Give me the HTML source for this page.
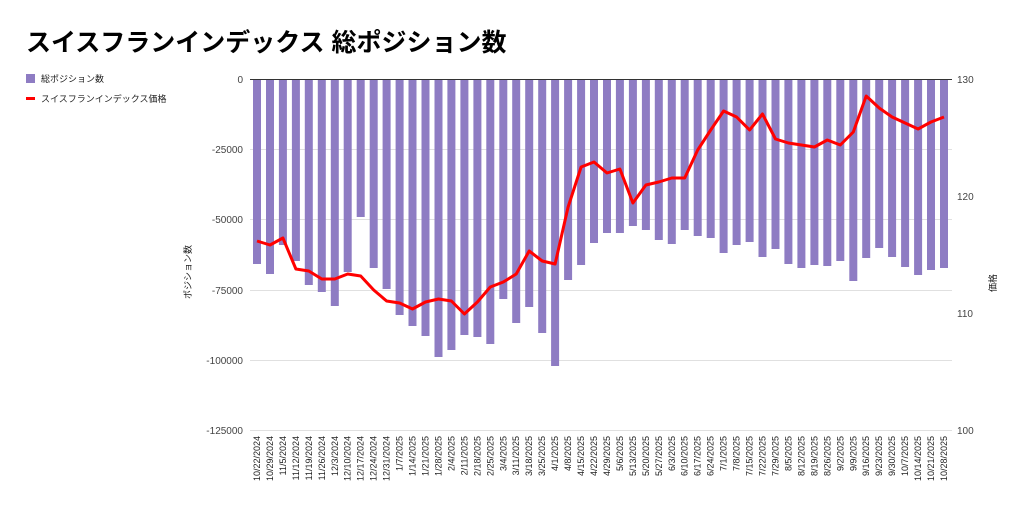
<!DOCTYPE html>
<html><head><meta charset="utf-8"><style>
html,body{margin:0;padding:0;background:#fff;}
svg{display:block;font-family:"Liberation Sans","Noto Sans CJK JP",sans-serif;}
</style></head><body>
<svg width="1024" height="509" viewBox="0 0 1024 509" xmlns="http://www.w3.org/2000/svg">
<text x="26" y="51" font-size="25" font-weight="bold" fill="#000">スイスフランインデックス 総ポジション数</text>
<rect x="26" y="74" width="9" height="9" fill="#8e7cc3"/>
<text x="41" y="82" font-size="9" fill="#222">総ポジション数</text>
<rect x="26" y="97" width="9" height="3" fill="#f00"/>
<text x="41" y="102" font-size="9" fill="#222">スイスフランインデックス価格</text>
<g stroke="#e0e0e0" stroke-width="1">
<line x1="250" y1="149.5" x2="952" y2="149.5"/><line x1="250" y1="219.5" x2="952" y2="219.5"/><line x1="250" y1="290.5" x2="952" y2="290.5"/><line x1="250" y1="360.5" x2="952" y2="360.5"/><line x1="250" y1="430.5" x2="952" y2="430.5"/>
</g>
<g font-size="10" fill="#444" text-anchor="end">
<text x="243" y="83">0</text><text x="243" y="153">-25000</text><text x="243" y="223">-50000</text><text x="243" y="294">-75000</text><text x="243" y="364">-100000</text><text x="243" y="434">-125000</text>
</g>
<g font-size="10" fill="#444">
<text x="957" y="83">130</text><text x="957" y="200">120</text><text x="957" y="317">110</text><text x="957" y="434">100</text>
</g>
<text transform="translate(191,272) rotate(-90)" font-size="9" fill="#222" text-anchor="middle">ポジション数</text>
<text transform="translate(996,283) rotate(-90)" font-size="9" fill="#222" text-anchor="middle">価格</text>
<g fill="#8e7cc3">
<rect x="253" y="79" width="8" height="185"/><rect x="266" y="79" width="8" height="195"/><rect x="278.9" y="79" width="8" height="166"/><rect x="291.9" y="79" width="8" height="182"/><rect x="304.8" y="79" width="8" height="206"/><rect x="317.8" y="79" width="8" height="213"/><rect x="330.8" y="79" width="8" height="227"/><rect x="343.7" y="79" width="8" height="193"/><rect x="356.7" y="79" width="8" height="138"/><rect x="369.7" y="79" width="8" height="189"/><rect x="382.6" y="79" width="8" height="210"/><rect x="395.6" y="79" width="8" height="236"/><rect x="408.5" y="79" width="8" height="247"/><rect x="421.5" y="79" width="8" height="257"/><rect x="434.5" y="79" width="8" height="278"/><rect x="447.4" y="79" width="8" height="271"/><rect x="460.4" y="79" width="8" height="256"/><rect x="473.4" y="79" width="8" height="258"/><rect x="486.3" y="79" width="8" height="265"/><rect x="499.3" y="79" width="8" height="220"/><rect x="512.2" y="79" width="8" height="244"/><rect x="525.2" y="79" width="8" height="228"/><rect x="538.2" y="79" width="8" height="254"/><rect x="551.1" y="79" width="8" height="287"/><rect x="564.1" y="79" width="8" height="201"/><rect x="577.1" y="79" width="8" height="186"/><rect x="590" y="79" width="8" height="164"/><rect x="603" y="79" width="8" height="154"/><rect x="615.9" y="79" width="8" height="154"/><rect x="628.9" y="79" width="8" height="147"/><rect x="641.9" y="79" width="8" height="151"/><rect x="654.8" y="79" width="8" height="161"/><rect x="667.8" y="79" width="8" height="165"/><rect x="680.7" y="79" width="8" height="151"/><rect x="693.7" y="79" width="8" height="157"/><rect x="706.7" y="79" width="8" height="159"/><rect x="719.6" y="79" width="8" height="174"/><rect x="732.6" y="79" width="8" height="166"/><rect x="745.6" y="79" width="8" height="163"/><rect x="758.5" y="79" width="8" height="178"/><rect x="771.5" y="79" width="8" height="170"/><rect x="784.4" y="79" width="8" height="185"/><rect x="797.4" y="79" width="8" height="189"/><rect x="810.4" y="79" width="8" height="186"/><rect x="823.3" y="79" width="8" height="187"/><rect x="836.3" y="79" width="8" height="182"/><rect x="849.3" y="79" width="8" height="202"/><rect x="862.2" y="79" width="8" height="179"/><rect x="875.2" y="79" width="8" height="169"/><rect x="888.1" y="79" width="8" height="178"/><rect x="901.1" y="79" width="8" height="188"/><rect x="914.1" y="79" width="8" height="196"/><rect x="927" y="79" width="8" height="191"/><rect x="940" y="79" width="8" height="189"/>
</g>
<line x1="250" y1="79.5" x2="952" y2="79.5" stroke="#333" stroke-width="1"/>
<polyline fill="none" stroke="#f00" stroke-width="3" stroke-linejoin="round" points="257,241 270,245 282.9,238 295.9,269 308.8,271 321.8,279 334.8,279 347.7,274 360.7,276 373.7,290 386.6,301 399.6,303 412.5,309 425.5,302 438.5,299 451.4,301 464.4,314 477.4,302 490.3,287 503.3,282 516.2,274 529.2,251 542.2,261 555.1,264 568.1,207 581.1,167 594,162 607,173 619.9,169 632.9,203 645.9,185 658.8,182 671.8,178 684.7,178 697.7,150 710.7,130 723.6,111 736.6,117 749.6,130 762.5,114 775.5,139 788.4,143 801.4,145 814.4,147 827.3,140 840.3,145 853.3,132 866.2,96 879.2,108 892.1,117 905.1,123 918.1,129 931,122 944,117"/>
<g font-size="9" fill="#222" text-anchor="end">
<text transform="translate(260,436) rotate(-90)">10/22/2024</text><text transform="translate(273,436) rotate(-90)">10/29/2024</text><text transform="translate(285.9,436) rotate(-90)">11/5/2024</text><text transform="translate(298.9,436) rotate(-90)">11/12/2024</text><text transform="translate(311.8,436) rotate(-90)">11/19/2024</text><text transform="translate(324.8,436) rotate(-90)">11/26/2024</text><text transform="translate(337.8,436) rotate(-90)">12/3/2024</text><text transform="translate(350.7,436) rotate(-90)">12/10/2024</text><text transform="translate(363.7,436) rotate(-90)">12/17/2024</text><text transform="translate(376.7,436) rotate(-90)">12/24/2024</text><text transform="translate(389.6,436) rotate(-90)">12/31/2024</text><text transform="translate(402.6,436) rotate(-90)">1/7/2025</text><text transform="translate(415.5,436) rotate(-90)">1/14/2025</text><text transform="translate(428.5,436) rotate(-90)">1/21/2025</text><text transform="translate(441.5,436) rotate(-90)">1/28/2025</text><text transform="translate(454.4,436) rotate(-90)">2/4/2025</text><text transform="translate(467.4,436) rotate(-90)">2/11/2025</text><text transform="translate(480.4,436) rotate(-90)">2/18/2025</text><text transform="translate(493.3,436) rotate(-90)">2/25/2025</text><text transform="translate(506.3,436) rotate(-90)">3/4/2025</text><text transform="translate(519.2,436) rotate(-90)">3/11/2025</text><text transform="translate(532.2,436) rotate(-90)">3/18/2025</text><text transform="translate(545.2,436) rotate(-90)">3/25/2025</text><text transform="translate(558.1,436) rotate(-90)">4/1/2025</text><text transform="translate(571.1,436) rotate(-90)">4/8/2025</text><text transform="translate(584.1,436) rotate(-90)">4/15/2025</text><text transform="translate(597,436) rotate(-90)">4/22/2025</text><text transform="translate(610,436) rotate(-90)">4/29/2025</text><text transform="translate(622.9,436) rotate(-90)">5/6/2025</text><text transform="translate(635.9,436) rotate(-90)">5/13/2025</text><text transform="translate(648.9,436) rotate(-90)">5/20/2025</text><text transform="translate(661.8,436) rotate(-90)">5/27/2025</text><text transform="translate(674.8,436) rotate(-90)">6/3/2025</text><text transform="translate(687.7,436) rotate(-90)">6/10/2025</text><text transform="translate(700.7,436) rotate(-90)">6/17/2025</text><text transform="translate(713.7,436) rotate(-90)">6/24/2025</text><text transform="translate(726.6,436) rotate(-90)">7/1/2025</text><text transform="translate(739.6,436) rotate(-90)">7/8/2025</text><text transform="translate(752.6,436) rotate(-90)">7/15/2025</text><text transform="translate(765.5,436) rotate(-90)">7/22/2025</text><text transform="translate(778.5,436) rotate(-90)">7/29/2025</text><text transform="translate(791.4,436) rotate(-90)">8/5/2025</text><text transform="translate(804.4,436) rotate(-90)">8/12/2025</text><text transform="translate(817.4,436) rotate(-90)">8/19/2025</text><text transform="translate(830.3,436) rotate(-90)">8/26/2025</text><text transform="translate(843.3,436) rotate(-90)">9/2/2025</text><text transform="translate(856.3,436) rotate(-90)">9/9/2025</text><text transform="translate(869.2,436) rotate(-90)">9/16/2025</text><text transform="translate(882.2,436) rotate(-90)">9/23/2025</text><text transform="translate(895.1,436) rotate(-90)">9/30/2025</text><text transform="translate(908.1,436) rotate(-90)">10/7/2025</text><text transform="translate(921.1,436) rotate(-90)">10/14/2025</text><text transform="translate(934,436) rotate(-90)">10/21/2025</text><text transform="translate(947,436) rotate(-90)">10/28/2025</text>
</g>
</svg>
</body></html>
